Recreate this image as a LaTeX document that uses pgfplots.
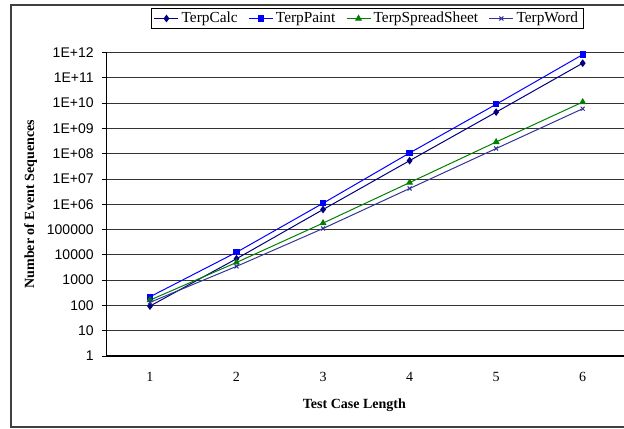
\documentclass[border=0pt]{standalone}
\usepackage{fontspec}
\setmainfont{Liberation Serif}
\newfontfamily\arialfont{Liberation Sans}
\usepackage{pgfplots}
\pgfplotsset{compat=1.18}

\definecolor{calc}{HTML}{000080}
\definecolor{paint}{HTML}{0000FF}
\definecolor{sheet}{HTML}{008000}
\definecolor{word}{HTML}{333399}

\begin{document}
\begin{tikzpicture}[x=1pt,y=1pt]
\useasboundingbox (0,0) rectangle (468,321);
\clip (0,0) rectangle (468,321);
% chart frame
\draw[line width=1.1pt, black!75] (8.25,0.75) rectangle (480,317.25);
\begin{axis}[
  at={(80pt,54pt)}, anchor=south west,
  scale only axis, width=389.5pt, height=227.6pt,
  ymode=log, ymin=1, ymax=1e12,
  xmin=0.5, xmax=6.5,
  axis x line*=bottom, axis y line*=left,
  axis line style={-, black, line width=0.8pt},
  xtick={1,2,3,4,5,6},
  xticklabels={1,2,3,4,5,6},
  xtick style={draw=none},
  minor xtick={0.5,1.5,2.5,3.5,4.5,5.5,6.5},
  minor tick length=3.75pt,
  minor tick style={black, line width=0.6pt},
  major tick length=3.75pt,
  tick align=outside,
  ytick={1,10,100,1000,1e4,1e5,1e6,1e7,1e8,1e9,1e10,1e11,1e12},
  yticklabels={1,10,100,1000,10000,100000,1E+06,1E+07,1E+08,1E+09,1E+10,1E+11,1E+12},
  yminorticks=false,
  ytick style={black, line width=0.6pt},
  ymajorgrids,
  major grid style={black!80, line width=0.6pt},
  yticklabel style={font=\arialfont\fontsize{10.5}{12}\selectfont, xshift=-2.5pt},
  xticklabel style={font=\fontsize{10.5}{12}\selectfont, yshift=-5pt},
  xlabel={\bfseries Test Case Length},
  ylabel={\bfseries Number of Event Sequences},
  every axis x label/.style={at={(axis description cs:0.477,-0.1626)}, anchor=center, font=\fontsize{10.5}{12}\selectfont},
  every axis y label/.style={at={(axis description cs:-0.1463,0.5)}, anchor=center, rotate=90, font=\fontsize{10.5}{12}\selectfont},
  legend columns=4,
  legend style={at={(axis description cs:0.502,1.112)}, anchor=center,
    draw=black, line width=0.6pt, fill=white,
    font=\fontsize{11.5}{13}\selectfont,
    inner xsep=2pt, inner ysep=1pt,
    /tikz/every even column/.append style={column sep=6pt}},
  legend image code/.code={
    \draw[mark repeat=2, mark phase=2, #1] plot coordinates {(0pt,0pt) (9pt,0pt) (18pt,0pt)};},
  every axis plot/.append style={line width=0.75pt},
]
\addplot[calc, mark=diamond*, mark size=2.3pt] coordinates {
  (1,94) (2,7000) (3,6.2e5) (4,5.3e7) (5,4.4e9) (6,3.8e11)};
\addlegendentry{TerpCalc}
\addplot[paint, mark=square*, mark size=2pt] coordinates {
  (1,219) (2,12600) (3,1.1e6) (4,1.07e8) (5,9.0e9) (6,8.3e11)};
\addlegendentry{TerpPaint}
\addplot[sheet, mark=triangle*, mark size=2.3pt] coordinates {
  (1,162) (2,5000) (3,1.8e5) (4,7.2e6) (5,2.9e8) (6,1.1e10)};
\addlegendentry{TerpSpreadSheet}
\addplot[word, mark=x, mark size=2.1pt] coordinates {
  (1,132) (2,3500) (3,1.1e5) (4,4.2e6) (5,1.6e8) (6,6e9)};
\addlegendentry{TerpWord}
\end{axis}
\end{tikzpicture}
\end{document}
